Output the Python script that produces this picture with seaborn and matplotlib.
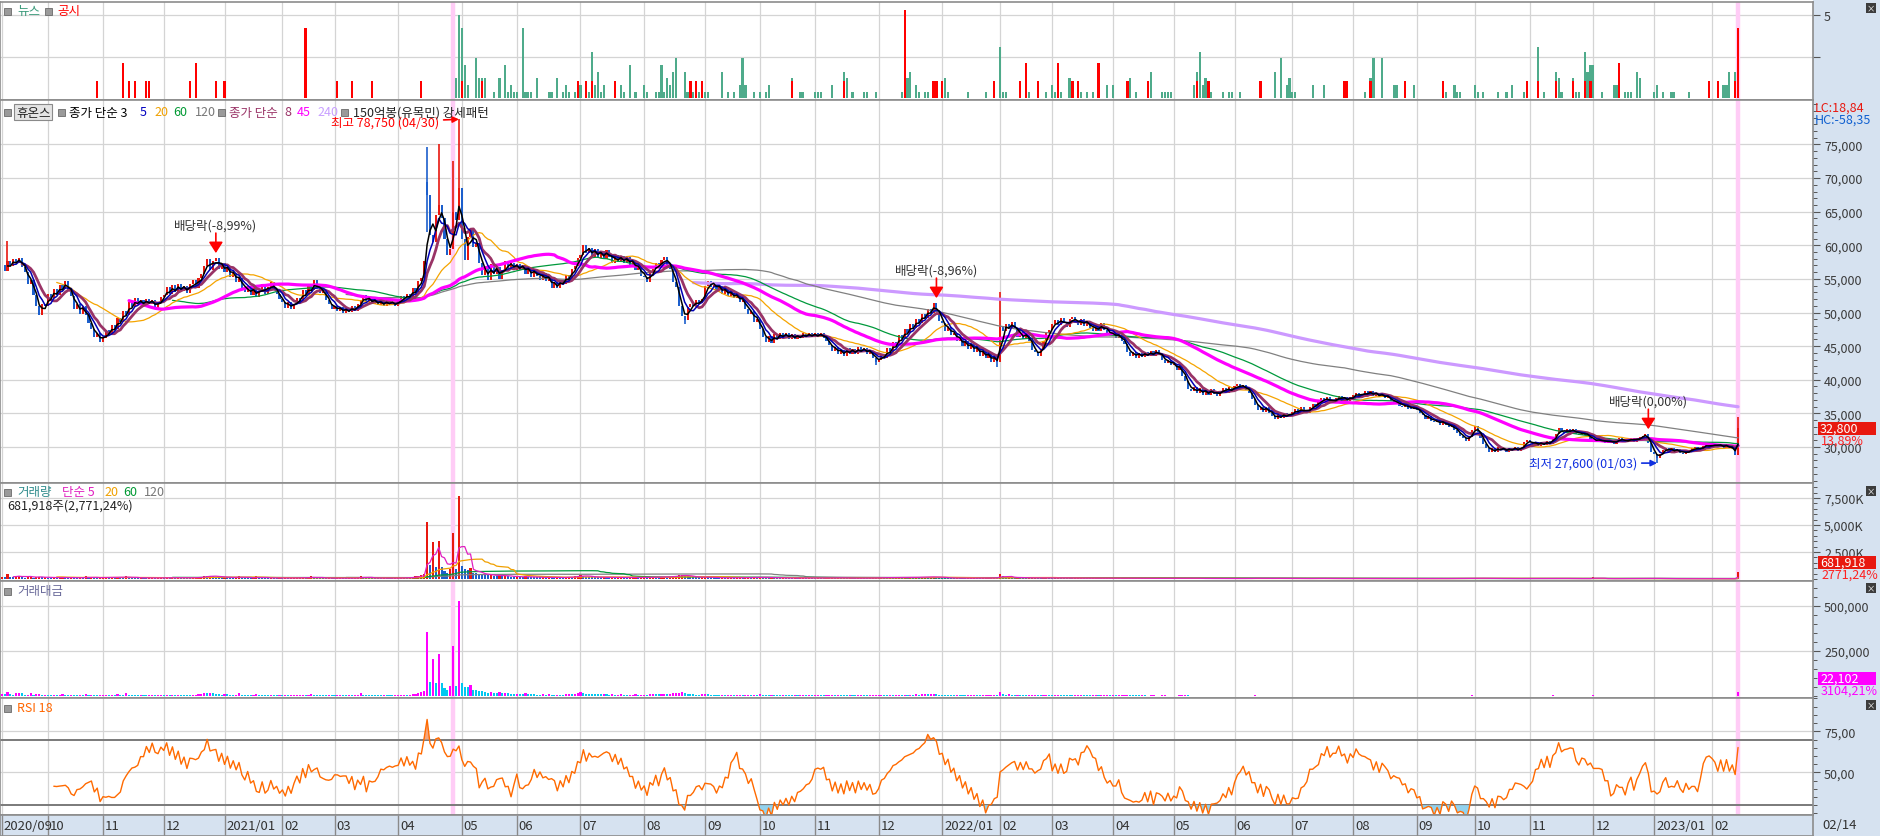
import numpy as np
import pandas as pd
import matplotlib

matplotlib.use("Agg")
import matplotlib.pyplot as plt
from matplotlib.patches import Rectangle
from matplotlib.ticker import FixedLocator, MultipleLocator, FuncFormatter
import seaborn as sns

W, H = 1880, 837
PLOT_W = 1813

# 종가 (원), 월별로 읽은 값
close_2020 = [
    57000, 56200, 57600, 56900, 58000, 57300, 58100, 56800, 56000, 54300, 54900, 52600, 51000, 49700, 51200, 50900,
    52800, 52200, 53500, 52600, 54100, 53500, 54700, 53200, 52400, 50500, 51300, 49800, 50900, 49600, 48400, 47500, 46300, 46900, 45600,
    46200, 47400, 46800, 48100, 47500, 49200, 48600, 50300, 49700, 51500, 50800, 52100, 51200, 51900, 51000, 52000, 51300, 51800, 50600, 51400, 52300,
    52600, 53800, 52700, 54100, 53000, 54300, 53200, 54000, 52900, 54200, 54800, 53700, 55100, 55700, 56900, 58000, 56400, 57600, 58100, 56500, 57300,
]
close_2021 = [
    56000, 56800, 55300, 55900, 54600, 55200, 53600, 53000, 53900, 52600, 53700, 52300, 53200, 54200, 52700, 53800, 54600, 53300, 52800, 52000,
    51500, 50700, 51600, 50600, 51300, 52200, 51700, 53400, 52600, 53900, 53300, 54800, 53600, 52900, 53400, 51800, 51200, 50600,
    51000, 50200, 50800, 49900, 50600, 50100, 50900, 50300, 51200, 51800, 52600, 51500, 52200, 51300, 51900, 51100, 51700, 51000, 51800, 51200, 51600, 50900,
    51700, 52400, 51900, 52800, 52300, 53600, 53100, 54700, 55200, 57600, 67500, 61500, 60500, 64500, 66000, 64000, 61000, 58500, 59500, 65000, 63800, 68600,
    61000, 57800, 61200, 62300, 59800, 60400, 57300, 55600, 56900, 54800, 57200, 55700, 56800, 55000, 56300, 57600, 56700, 57400, 56300,
    57200, 56300, 57100, 55800, 56600, 55300, 56400, 55500, 54900, 55900, 54700, 55200, 53600, 54500, 53700, 54900, 54300, 55600, 55000, 56500, 56900, 58100,
    58600, 60100, 58800, 59600, 58300, 59500, 58100, 59200, 58000, 59300, 58200, 57400, 58600, 57500, 58400, 57300, 58200, 57100, 57600, 56300, 56800, 55400,
    55300, 54500, 55900, 56500, 57400, 56600, 57800, 58300, 57100, 56500, 54600, 53800, 51000, 49500, 48900, 50800, 51300, 50900, 51900, 51400, 52000,
    53900, 54700, 53800, 54500, 53300, 53900, 52800, 53500, 52500, 52900, 52100, 52700, 51500, 51900, 50600, 49800, 50200, 48600, 49000,
    47600, 46400, 45600, 46500, 45400, 46800, 46100, 47000, 46300, 46900, 46100, 46800, 46000, 46700, 46200, 47000, 46300, 46900, 46400,
    46900, 46300, 47000, 46200, 45700, 45100, 44300, 44900, 43800, 44400, 43600, 44700, 43900, 44600, 43800, 44900, 44100, 44700, 43900, 44300, 43300, 42700,
    43000, 43800, 43300, 44700, 44100, 45600, 45000, 46600, 46100, 47500, 46900, 48300, 47700, 49100, 48500, 49800, 49200, 50600, 50000, 51400, 50300, 48800,
]
close_2022 = [
    48400, 47300, 47900, 46600, 47000, 45700, 46200, 45000, 45700, 44600, 45300, 44200, 44800, 43600, 44300, 43200, 43800, 42700, 43300, 42600,
    48000, 47200, 48300, 47500, 48600, 47700, 46300, 47100, 46000, 46900, 45700, 44500, 44100, 43600, 44600, 45700, 46900, 47400,
    48300, 48900, 48100, 49200, 48400, 47900, 49000, 49400, 48500, 48200, 49100, 48000, 48800, 47700, 47300, 48100, 47200, 48400, 47400, 47000, 46700,
    47000, 46200, 46700, 45800, 45300, 44100, 43500, 44200, 43300, 44000, 43400, 44100, 43500, 44300, 43600, 44400, 43800, 43000, 42500, 43000, 42200,
    42300, 41400, 42000, 40600, 39800, 38600, 38300, 38900, 38000, 38700, 37800, 38500, 37700, 38600, 37900, 37600, 38400, 38800, 38100, 38900, 38300,
    39000, 39400, 38700, 39200, 38500, 38100, 37200, 36300, 35500, 36000, 35200, 35900, 35000, 34600, 34100, 34900, 34300, 35000, 34500, 34900,
    35200, 35600, 35000, 35900, 35300, 35100, 35900, 36400, 35900, 36900, 37300, 36700, 37400, 36800, 36600, 37300, 37600, 36900, 37500, 36800, 37400,
    37700, 38100, 37400, 37900, 38300, 37600, 38400, 37600, 38000, 37400, 37900, 37300, 37500, 36800, 36500, 36900, 36100, 36000, 36400, 35700, 35600, 36000,
    35500, 35000, 34700, 34100, 34600, 33800, 33700, 34000, 33300, 33900, 33200, 32900, 33300, 32500, 32100, 31700, 31400, 30900, 31500, 32500,
    33100, 32200, 31300, 30500, 29800, 29300, 29800, 29200, 30000, 29600, 29700, 29300, 29900, 29500, 30000, 29400, 29900, 30700, 31000,
    30700, 30300, 30800, 30200, 30700, 30300, 30900, 30500, 31400, 31900, 32800, 32300, 32100, 32700, 32200, 32600, 32000, 31800, 32300, 31800, 31600, 31200,
    31100, 30700, 31300, 30800, 30600, 31100, 30700, 30500, 31000, 31400, 30900, 30700, 31100, 31400, 30800, 31200, 31500, 31700, 31900, 30600, 29300,
]
close_2023 = [
    28900, 28300, 29000, 29600, 29900, 29300, 29800, 29200, 29700, 29100, 29000, 29500, 29200, 29800, 30000, 29500, 29900, 30200, 30400, 29900,
    30300, 30500, 30000, 30400, 29900, 30300, 29800, 29700, 28800, 32800,
]

# 거래량 (천주)
vol_2020 = [
    180, 150, 420, 160, 140, 260, 310, 280, 130, 150, 300, 120, 170, 210, 140, 160,
    130, 110, 150, 120, 140, 160, 120, 100, 140, 130, 110, 120, 100, 250, 130, 150, 120, 110, 140,
    150, 160, 140, 170, 130, 210, 140, 120, 280, 130, 120, 110, 100, 120, 110, 90, 100, 110, 90, 100, 120,
    110, 130, 100, 120, 110, 130, 120, 110, 100, 90, 120, 150, 180, 200, 280, 260, 300, 250, 220, 160, 140,
]
vol_2021 = [
    200, 160, 130, 120, 140, 280, 130, 120, 110, 100, 110, 260, 120, 110, 100, 90, 110, 100, 90, 100,
    90, 100, 80, 90, 100, 110, 120, 150, 100, 110, 260, 130, 110, 100, 90, 80, 90, 85,
    80, 85, 90, 80, 75, 85, 80, 90, 110, 300, 130, 110, 100, 95, 90, 85, 80, 90, 85, 80, 75, 85,
    100, 110, 120, 110, 150, 170, 240, 300, 380, 440, 5300, 1300, 3400, 1100, 3500, 1100, 700, 600, 900, 4300, 900, 7700,
    1200, 900, 800, 1000, 600, 550, 500, 450, 400, 350, 380, 300, 280, 380, 260, 300, 250, 220, 200,
    220, 200, 180, 260, 190, 170, 160, 150, 140, 160, 150, 180, 140, 130, 150, 140, 130, 160, 200, 180, 240, 300,
    350, 280, 220, 200, 180, 170, 160, 150, 170, 160, 140, 150, 130, 140, 150, 130, 120, 130, 140, 150, 130, 140,
    150, 140, 160, 180, 170, 160, 200, 220, 180, 200, 260, 300, 350, 400, 300, 250, 200, 180, 160, 150, 170,
    220, 160, 140, 130, 120, 110, 120, 100, 110, 120, 100, 110, 130, 120, 140, 150, 130, 160, 140,
    180, 150, 140, 120, 130, 110, 100, 90, 100, 95, 90, 85, 90, 80, 85, 90, 80, 85, 80,
    80, 90, 85, 80, 95, 100, 110, 100, 120, 110, 90, 80, 85, 80, 75, 80, 85, 80, 75, 90, 100, 120,
    130, 140, 120, 110, 130, 120, 140, 160, 130, 150, 140, 160, 150, 170, 160, 180, 200, 170, 190, 220, 180, 150,
]
vol_2022 = [
    120, 100, 90, 85, 80, 90, 85, 80, 75, 80, 85, 90, 80, 75, 85, 90, 100, 110, 120, 100,
    450, 250, 150, 180, 130, 120, 140, 110, 100, 90, 95, 110, 120, 100, 90, 110, 120, 100,
    90, 100, 110, 95, 90, 85, 80, 75, 80, 85, 90, 80, 75, 70, 75, 80, 70, 75, 80, 85, 70,
    75, 70, 80, 85, 90, 100, 80, 75, 70, 65, 70, 65, 60, 65, 70, 60, 55, 65, 70, 60, 65,
    60, 65, 70, 80, 90, 75, 70, 60, 55, 50, 55, 50, 45, 50, 55, 50, 45, 50, 55, 50, 45,
    50, 45, 40, 45, 50, 55, 70, 80, 60, 55, 50, 60, 55, 65, 70, 55, 50, 45, 50, 45,
    45, 40, 45, 50, 45, 40, 45, 60, 50, 55, 60, 50, 45, 50, 45, 40, 45, 50, 45, 40, 45,
    40, 45, 40, 45, 50, 45, 40, 45, 40, 35, 40, 45, 40, 35, 40, 45, 50, 45, 40, 45, 40, 35,
    40, 45, 40, 35, 40, 45, 40, 35, 40, 45, 40, 45, 50, 55, 60, 65, 70, 80, 60, 90,
    70, 60, 55, 60, 70, 65, 55, 50, 45, 50, 45, 40, 45, 40, 45, 40, 45, 60, 55,
    50, 45, 40, 45, 40, 45, 55, 70, 90, 60, 50, 45, 50, 45, 40, 45, 40, 35, 40, 35, 40, 45,
    180, 60, 40, 35, 30, 35, 30, 35, 30, 35, 30, 35, 30, 35, 40, 35, 40, 45, 50, 60, 70,
]
vol_2023 = [
    45, 60, 40, 35, 30, 28, 30, 32, 28, 30, 26, 28, 30, 28, 26, 30, 28, 26, 28, 30,
    28, 26, 30, 28, 26, 24, 26, 28, 24.607, 681.918,
]

# 뉴스 / 공시 막대 높이 (거래일 번호: 높이)
news = {
    157: 1.2, 158: 5.0, 159: 4.2, 160: 2.0, 161: 0.8, 164: 2.4, 165: 1.2, 166: 1.2, 167: 1.2, 170: 0.4,
    172: 1.2, 174: 2.0, 175: 0.4, 176: 0.8, 177: 0.4, 178: 0.4, 180: 4.2, 181: 0.4, 182: 0.4, 183: 0.4,
    185: 1.2, 189: 0.4, 190: 0.4, 192: 1.2, 194: 0.4, 195: 0.8, 196: 0.4, 198: 0.4, 200: 0.8, 203: 0.4,
    204: 2.8, 205: 0.8, 206: 1.6, 207: 0.4, 208: 0.8, 214: 0.8, 215: 0.4, 217: 2.0, 219: 0.4, 222: 0.8,
    223: 0.4, 226: 0.4, 227: 0.4, 228: 2.0, 229: 0.4, 230: 1.2, 231: 0.8, 232: 1.6, 233: 2.4, 236: 1.6,
    237: 0.4, 239: 0.4, 241: 0.4, 243: 0.4, 244: 0.4, 249: 1.6, 251: 0.4, 253: 0.4, 255: 0.8, 256: 2.4,
    257: 0.8, 260: 0.4, 262: 0.4, 264: 0.4, 265: 0.8, 273: 1.2, 276: 0.4, 277: 0.4, 281: 0.4, 282: 0.4,
    283: 0.4, 287: 0.8, 291: 1.6, 292: 1.2, 294: 0.4, 298: 0.4, 299: 0.4, 302: 0.4, 311: 0.4, 313: 1.2,
    314: 1.6, 316: 0.8, 317: 0.4, 319: 0.4, 320: 0.4, 326: 1.2, 327: 0.4, 334: 0.4, 340: 0.4, 345: 3.1,
    346: 0.4, 347: 0.4, 355: 0.4, 361: 0.4, 363: 0.8, 364: 0.4, 366: 0.4, 369: 1.2, 373: 0.4, 375: 0.4,
    377: 0.4, 382: 0.8, 384: 0.8, 390: 1.2, 392: 0.4, 397: 1.6, 401: 0.4, 402: 0.4, 403: 0.4, 404: 0.4,
    412: 0.8, 413: 1.6, 414: 2.8, 415: 0.8, 416: 1.2, 417: 0.8, 418: 0.4, 422: 0.4, 424: 0.4, 425: 0.4,
    428: 0.4, 440: 1.6, 442: 2.4, 444: 0.8, 445: 1.2, 446: 0.4, 447: 0.4, 453: 0.8, 457: 0.8, 471: 0.4,
    473: 1.2, 474: 2.4, 477: 2.4, 481: 0.8, 482: 0.8, 488: 0.8, 499: 0.4, 502: 0.8, 503: 0.4, 504: 0.4,
    509: 0.8, 510: 0.4, 512: 0.4, 517: 0.4, 520: 0.4, 522: 0.8, 526: 0.4, 531: 3.1, 533: 0.4, 537: 1.6,
    538: 1.2, 539: 0.4, 543: 1.2, 544: 0.4, 545: 0.4, 547: 2.8, 548: 1.6, 549: 2.0, 550: 2.0, 553: 0.4,
    557: 0.8, 558: 0.8, 561: 0.4, 562: 0.4, 563: 0.4, 565: 1.6, 566: 1.2, 571: 0.4, 572: 0.8, 574: 0.4,
    577: 0.4, 578: 0.4, 583: 0.4, 595: 0.8, 596: 0.8, 597: 1.6, 599: 1.6, 600: 4.2,
}
disclosure = {
    33: 1, 42: 2, 44: 1, 46: 1, 50: 1, 51: 1, 65: 1, 67: 2, 74: 1, 77: 1, 105: 4, 116: 1, 121: 1,
    128: 1, 145: 1, 159: 1, 166: 1, 199: 1, 202: 1, 204: 1, 212: 1, 238: 1, 240: 1, 242: 1, 273: 1,
    291: 1, 312: 5, 322: 1, 323: 1, 325: 1, 343: 1, 352: 1, 354: 2, 358: 1, 365: 2, 370: 1, 372: 1,
    379: 2, 389: 1, 396: 1, 413: 1, 417: 1, 435: 1, 464: 1, 465: 1, 473: 1, 485: 1, 498: 1, 527: 1,
    531: 1, 537: 1, 543: 1, 547: 1, 549: 1, 559: 2, 590: 1, 593: 1, 599: 1, 600: 4,
}

# 눈에 띄는 고가/저가, 갭 시가
highs = {2: 60600, 147: 74700, 151: 75000, 156: 72600, 158: 78750, 345: 53000, 600: 34400}
lows = {147: 62000, 236: 48300, 302: 42200, 344: 41900, 572: 27600}
gap_open = {147: 69400}

ex_div = [("2020-12-28", "배당락(-8,99%)"), ("2021-12-29", "배당락(-8,96%)"), ("2022-12-28", "배당락(0,00%)")]
marker_days = ["2021-04-28", "2023-02-14"]
value_label = ("22,102", "3104,21%")

KRX_HOLIDAYS = [
    "2020-09-30", "2020-10-01", "2020-10-02", "2020-10-09", "2020-12-25", "2020-12-31",
    "2021-01-01", "2021-02-11", "2021-02-12", "2021-03-01", "2021-05-05", "2021-05-19", "2021-08-16",
    "2021-09-20", "2021-09-21", "2021-09-22", "2021-10-04", "2021-10-11", "2021-12-31",
    "2022-01-31", "2022-02-01", "2022-02-02", "2022-03-01", "2022-03-09", "2022-05-05", "2022-06-01",
    "2022-06-06", "2022-08-15", "2022-09-09", "2022-09-12", "2022-10-03", "2022-10-10", "2022-12-30",
    "2023-01-23", "2023-01-24",
]

RED = "#e8180f"
BLUE = "#1c5fcc"
STRIP = "#d6e2f0"
GRID = "#d4d4d4"
AXFONT = 9


def comma_dec(v, d=2):
    return f"{v:.{d}f}".replace(".", ",")


def rect(top, bottom):
    return [0, 1 - bottom / H, PLOT_W / W, (bottom - top) / H]


def setup(ax, month_pos):
    ax.set_xlim(-0.59, 625.9)
    ax.set_facecolor("white")
    ax.set_xticks(month_pos)
    ax.tick_params(axis="x", length=0, labelbottom=False)
    ax.yaxis.tick_right()
    ax.tick_params(axis="y", which="major", direction="out", length=5, width=0.8,
                   color="#555555", labelcolor="#3a3a3a", labelsize=AXFONT, pad=3)
    ax.tick_params(axis="y", which="minor", direction="out", length=3, width=0.7, color="#555555")
    for s in ax.spines.values():
        s.set_color("#8c8c8c")
        s.set_linewidth(1.2)
    ax.grid(True, which="major", color=GRID, lw=0.9)
    ax.set_axisbelow(True)


def ftext(fig, x, y, s, color, size=9, **kw):
    fig.text(x / W, 1 - y / H, s, color=color, fontsize=size, va="center", ha="left", **kw)


def legend_square(fig, x, y):
    fig.add_artist(Rectangle(((x - 3) / W, 1 - (y + 3.5) / H), 7 / W, 7 / H, transform=fig.transFigure,
                             fc="#9a9a9a", ec="#6a6a6a", lw=0.6, zorder=5))


def main():
    sns.set_theme(style="white")
    plt.rcParams["font.family"] = ["Noto Sans CJK KR", "DejaVu Sans"]
    plt.rcParams["axes.unicode_minus"] = False

    close = pd.Series(close_2020 + close_2021 + close_2022 + close_2023, dtype=float)
    vol = pd.Series(vol_2020 + vol_2021 + vol_2022 + vol_2023, dtype=float)
    n = len(close)
    days = pd.bdate_range("2020-09-08", "2023-02-14", freq="C", holidays=KRX_HOLIDAYS)[:n]
    pos = {d.strftime("%Y-%m-%d"): i for i, d in enumerate(days)}
    idx = np.arange(n)

    openp = close.shift(1).fillna(close.iloc[0])
    for i, v in gap_open.items():
        openp[i] = v

    month_pos, month_lbl = [], []
    for i, d in enumerate(days):
        if i == 0 or d.month != days[i - 1].month:
            month_pos.append(i)
            month_lbl.append(d.strftime("%Y/%m") if (i == 0 or d.month == 1) else d.strftime("%m"))

    fig = plt.figure(figsize=(W / 100, H / 100), dpi=100)
    fig.patch.set_facecolor("white")
    fig.add_artist(Rectangle((PLOT_W / W, 0), (W - PLOT_W) / W, 1, transform=fig.transFigure,
                             fc=STRIP, ec="none", zorder=-5))

    ax_news = fig.add_axes(rect(3, 101))
    ax_price = fig.add_axes(rect(101, 484))
    ax_vol = fig.add_axes(rect(484, 582))
    ax_val = fig.add_axes(rect(582, 699))
    ax_rsi = fig.add_axes(rect(699, 816))
    ax_date = fig.add_axes(rect(816, 837))

    marks = [pos[d] for d in marker_days]
    for ax in (ax_news, ax_price, ax_vol, ax_val, ax_rsi):
        setup(ax, month_pos)
        for m in marks:
            ax.axvline(m, color="#ffccf6", lw=3.2, zorder=0.6)

    # 뉴스 / 공시
    nk = sorted(news)
    ax_news.bar(nk, [news[k] for k in nk], width=0.75, color="#4fab8b", lw=0, zorder=2)
    dk = sorted(disclosure)
    ax_news.bar(dk, [disclosure[k] * 1.06 for k in dk], width=0.75, color="#ff0000", lw=0, zorder=3)
    ax_news.set_ylim(-0.1, 5.78)
    ax_news.yaxis.set_major_locator(FixedLocator([2.5, 5]))
    ax_news.yaxis.set_major_formatter(FuncFormatter(lambda v, p: "5" if v == 5 else ""))

    # 가격 캔들
    body_lo = np.minimum(openp, close)
    body_h = np.maximum(np.abs(close - openp), 130)
    colors = np.where(close >= openp, RED, BLUE)
    ax_price.bar(idx, body_h, bottom=body_lo, width=0.72, color=colors, lw=0, zorder=2)
    for i in sorted(set(highs) | set(lows)):
        top = max(highs.get(i, 0), openp[i], close[i])
        bot = min(lows.get(i, 1e9), openp[i], close[i])
        ax_price.vlines(i, bot, top, color=colors[i], lw=1.2, zorder=2)

    ma = pd.DataFrame({"idx": idx})
    for w in (3, 5, 8, 20, 45, 60, 120, 240):
        ma[f"ma{w}"] = close.rolling(w).mean()
    specs = [
        ("ma240", "#cc99ff", 2.3, 2.5), ("ma120", "#808080", 0.9, 2.6), ("ma60", "#00993c", 0.9, 2.7),
        ("ma20", "#f5a400", 0.9, 2.8), ("ma45", "#ff00ff", 2.3, 3.0), ("ma8", "#993366", 2.0, 3.2),
        ("ma5", "#0000b4", 1.1, 3.4), ("ma3", "#000000", 1.1, 3.6),
    ]
    for col, c, lw, z in specs:
        sns.lineplot(data=ma, x="idx", y=col, ax=ax_price, color=c, lw=lw, zorder=z,
                     estimator=None, legend=False)
    ax_price.set_xlabel("")
    ax_price.set_ylabel("")
    ylo, yhi = 24640, 81620
    ax_price.set_ylim(ylo, yhi)
    ax_price.yaxis.set_major_locator(FixedLocator(list(range(30000, 75001, 5000))))
    ax_price.yaxis.set_minor_locator(MultipleLocator(1000))
    ax_price.yaxis.set_major_formatter(FuncFormatter(lambda v, p: f"{int(v):,}"))
    dpp = (yhi - ylo) / 383.0

    for d, label in ex_div:
        i = pos[d]
        base = max(close[i - 1], close[i], openp[i]) + 5 * dpp
        ax_price.annotate("", xy=(i, base), xytext=(i, base + 20 * dpp),
                          arrowprops=dict(arrowstyle="-|>,head_width=0.35,head_length=0.55",
                                          color="red", lw=1.2, shrinkA=0, shrinkB=0), zorder=6)
        ax_price.text(i, base + 28 * dpp, label, ha="center", va="center", fontsize=9, color="#333333", zorder=6)

    hi_i = max(highs, key=highs.get)
    ax_price.annotate(f"최고 {highs[hi_i]:,} ({days[hi_i].strftime('%m/%d')})", xy=(hi_i, highs[hi_i]),
                      xytext=(-20, -3), textcoords="offset pixels", ha="right", va="center",
                      fontsize=9, color="red",
                      arrowprops=dict(arrowstyle="-|>", color="red", lw=1.2, shrinkA=1, shrinkB=0), zorder=6)
    lo_i = min(lows, key=lows.get)
    ax_price.annotate(f"최저 {lows[lo_i]:,} ({days[lo_i].strftime('%m/%d')})", xy=(lo_i, lows[lo_i]),
                      xytext=(-20, 0), textcoords="offset pixels", ha="right", va="center",
                      fontsize=9, color="#1030e0",
                      arrowprops=dict(arrowstyle="-|>", color="#1030e0", lw=1.2, shrinkA=1, shrinkB=0), zorder=6)

    # 거래량
    vcol = np.where(vol > vol.shift(1).fillna(0), RED, BLUE)
    ax_vol.bar(idx, vol, width=0.72, color=vcol, lw=0, zorder=2)
    vma = pd.DataFrame({"idx": idx})
    for w in (5, 20, 60, 120):
        vma[f"v{w}"] = vol.rolling(w).mean()
    for col, c in (("v120", "#808080"), ("v60", "#00993c"), ("v20", "#f0a000"), ("v5", "#e020c0")):
        sns.lineplot(data=vma, x="idx", y=col, ax=ax_vol, color=c, lw=0.9, zorder=3,
                     estimator=None, legend=False)
    ax_vol.set_xlabel("")
    ax_vol.set_ylabel("")
    ax_vol.set_ylim(-185, 8890)
    ax_vol.yaxis.set_major_locator(FixedLocator([2500, 5000, 7500]))
    ax_vol.yaxis.set_minor_locator(MultipleLocator(500))
    ax_vol.yaxis.set_major_formatter(FuncFormatter(lambda v, p: f"{int(v):,}K"))

    # 거래대금 (백만원)
    value = vol * close / 1000.0
    tcol = np.where(value > value.shift(1).fillna(0), "#ff00ff", "#00c8f0")
    ax_val.bar(idx, value, width=0.72, color=tcol, lw=0, zorder=2)
    ax_val.set_ylim(-11100, 638900)
    ax_val.yaxis.set_major_locator(FixedLocator([250000, 500000]))
    ax_val.yaxis.set_minor_locator(MultipleLocator(50000))
    ax_val.yaxis.set_major_formatter(FuncFormatter(lambda v, p: f"{int(v):,}"))

    # RSI 18
    delta = close.diff()
    au = delta.clip(lower=0).rolling(18).mean()
    ad = (-delta.clip(upper=0)).rolling(18).mean()
    rsi = 100 * au / (au + ad)
    rdf = pd.DataFrame({"idx": idx, "rsi": rsi})
    ax_rsi.fill_between(idx, rsi, 70, where=(rsi > 70).values, interpolate=True, color="#f6a57c", lw=0, zorder=2)
    ax_rsi.fill_between(idx, rsi, 30, where=(rsi < 30).values, interpolate=True, color="#92d2ee", lw=0, zorder=2)
    sns.lineplot(data=rdf, x="idx", y="rsi", ax=ax_rsi, color="#ff6a00", lw=1.0, zorder=3,
                 estimator=None, legend=False)
    ax_rsi.set_xlabel("")
    ax_rsi.set_ylabel("")
    for lv in (30, 70):
        ax_rsi.axhline(lv, color="#7a7a7a", lw=1.4, zorder=1.5)
    ax_rsi.set_ylim(24.0, 95.3)
    ax_rsi.yaxis.set_major_locator(FixedLocator([50, 75]))
    ax_rsi.yaxis.set_minor_locator(MultipleLocator(5))
    ax_rsi.yaxis.set_major_formatter(FuncFormatter(lambda v, p: comma_dec(v)))

    # 날짜 축
    ax_date.set_xlim(-0.59, 625.9)
    ax_date.set_ylim(0, 1)
    ax_date.set_facecolor(STRIP)
    ax_date.set_xticks([])
    ax_date.set_yticks([])
    for s in ax_date.spines.values():
        s.set_color("#8c8c8c")
        s.set_linewidth(1.2)
    ax_date.vlines(month_pos, 0, 1, color="#8a8a8a", lw=1)
    for p, lb in zip(month_pos, month_lbl):
        ax_date.annotate(lb, xy=(p, 0.5), xytext=(2, 0), textcoords="offset pixels",
                         ha="left", va="center", fontsize=9.5, color="#333333")
    ftext(fig, 1822, 826, days[-1].strftime("%m/%d"), "#333333", 9.5)

    # 범례 텍스트
    legend_square(fig, 7, 12)
    ftext(fig, 17, 12, "뉴스", "#3a9a7a")
    legend_square(fig, 48, 12)
    ftext(fig, 57, 12, "공시", "#ff0000")

    y = 113
    legend_square(fig, 7, y)
    fig.text(16 / W, 1 - y / H, "휴온스", color="#222222", fontsize=9, va="center", ha="left",
             bbox=dict(boxstyle="square,pad=0.15", fc="#e4e4e4", ec="#8a8a8a", lw=0.8))
    legend_square(fig, 61, y)
    for x, s, c in ((69, "종가 단순 3", "#000000"), (140, "5", "#0000c0"), (154, "20", "#f0a000"),
                    (173, "60", "#009933"), (195, "120", "#777777")):
        ftext(fig, x, y, s, c)
    legend_square(fig, 221, y)
    for x, s, c in ((229, "종가 단순", "#993366"), (284, "8", "#993366"), (297, "45", "#ff00ff"),
                    (317, "240", "#c8a0ff")):
        ftext(fig, x, y, s, c)
    legend_square(fig, 344, y)
    ftext(fig, 353, y, "150억봉(유목민) 강세패턴", "#222222")

    legend_square(fig, 7, 493)
    for x, s, c in ((17, "거래량", "#2e8b8b"), (62, "단순 5", "#e020c0"), (104, "20", "#f0a000"),
                    (123, "60", "#009933"), (144, "120", "#777777")):
        ftext(fig, x, 493, s, c)
    last_vol = int(round(vol.iloc[-1] * 1000))
    vratio = vol.iloc[-1] / vol.iloc[-2] * 100
    ftext(fig, 7, 506, f"{last_vol:,}주({f'{vratio:,.2f}'.replace('.', ',')}%)", "#222222")

    legend_square(fig, 7, 592)
    ftext(fig, 17, 592, "거래대금", "#6a6a9a")
    legend_square(fig, 7, 709)
    ftext(fig, 17, 709, "RSI 18", "#ff6600")

    # 오른쪽 값 라벨
    last = close.iloc[-1]
    pchg = (last / close.iloc[-2] - 1) * 100
    min_low = min(close.min(), min(lows.values()))
    max_high = max(close.max(), max(highs.values()))
    ftext(fig, 1815, 108, f"LC:{comma_dec((last / min_low - 1) * 100)}", "#e8180f", AXFONT)
    ftext(fig, 1815, 120, f"HC:{comma_dec((last / max_high - 1) * 100)}", "#1060d0", AXFONT)

    def value_box(ytop_px, text, sub, fc, subc):
        fig.add_artist(Rectangle((1818 / W, 1 - (ytop_px + 13) / H), 58 / W, 13 / H,
                                 transform=fig.transFigure, fc=fc, ec="none", zorder=8))
        fig.text(1820 / W, 1 - (ytop_px + 6.5) / H, text, color="white", fontsize=AXFONT,
                 va="center", ha="left", zorder=9)
        fig.text(1821 / W, 1 - (ytop_px + 18.5) / H, sub, color=subc, fontsize=AXFONT,
                 va="center", ha="left", zorder=9)

    y_last = H - ax_price.transData.transform((0, last))[1]
    value_box(y_last - 6.5, f"{int(last):,}", f"{comma_dec(pchg)}%", "#e8180f", "#ff2020")
    value_box(557, f"{last_vol:,}", f"{comma_dec(vratio)}%", "#e8180f", "#ff2020")
    value_box(673, value_label[0], value_label[1], "#ff00ff", "#ff00ff")

    for yc in (9, 492, 589, 706):
        fig.add_artist(Rectangle((1866 / W, 1 - (yc + 5) / H), 10 / W, 10 / H, transform=fig.transFigure,
                                 fc="#3c3c3c", ec="none", zorder=8))
        fig.text(1871 / W, 1 - yc / H, "×", color="white", fontsize=6, ha="center", va="center", zorder=9)

    fig.savefig("out.png", dpi=100)


if __name__ == "__main__":
    main()
